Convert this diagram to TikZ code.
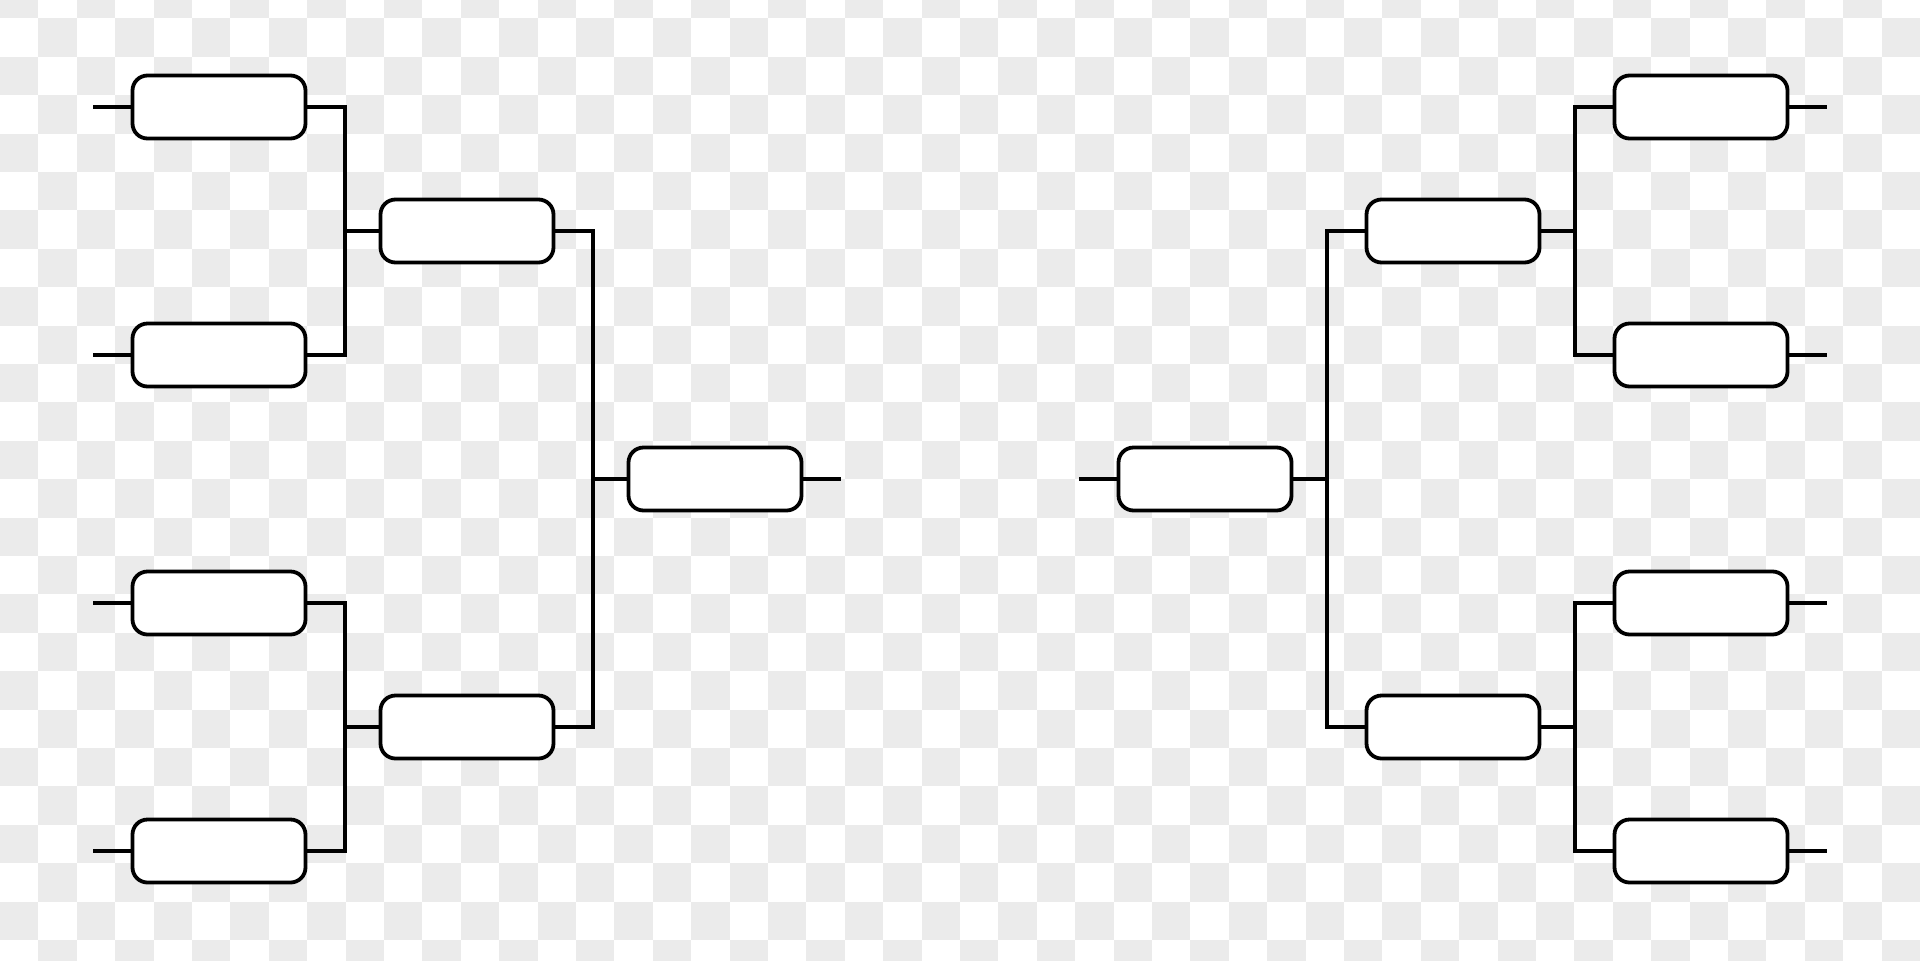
\documentclass[tikz,border=0pt]{standalone}
\usepackage{tikz}
\definecolor{checkgray}{RGB}{235,235,235}
\tikzstyle{slot}=[rectangle,rounded corners=1.5mm,minimum width=1.73cm,minimum height=0.63cm,inner sep=0pt,draw=black,fill=white,line width=0.38mm]
\tikzstyle{link}=[line width=0.38mm]

\begin{document}
\begin{tikzpicture}[node distance=2.48cm]
    \useasboundingbox (0,0) rectangle (19.2,9.6);
    % checker background
    \begin{scope}
        \clip (0,0) rectangle (19.2,9.6);
        \foreach \i in {0,...,49}{
            \pgfmathtruncatemacro{\off}{mod(\i,2)}
            \foreach \k in {0,...,12}
                \fill[checkgray] (\i*0.384,9.801-\off*0.384-\k*0.768) rectangle ++(0.384,-0.384);
        }
    \end{scope}
    % left half
    \node (lfinal)[slot] at (7.15,4.81){};
    \node (lsemi1)[slot,left of=lfinal,yshift=2.48cm]{};
    \node (lsemi2)[slot,left of=lfinal,yshift=-2.48cm]{};
    \node (lq1)[slot,left of=lsemi1,yshift=1.24cm]{};
    \node (lq2)[slot,left of=lsemi1,yshift=-1.24cm]{};
    \node (lq3)[slot,left of=lsemi2,yshift=1.24cm]{};
    \node (lq4)[slot,left of=lsemi2,yshift=-1.24cm]{};
    % right half
    \node (rfinal)[slot] at (12.05,4.81){};
    \node (rsemi1)[slot,right of=rfinal,yshift=2.48cm]{};
    \node (rsemi2)[slot,right of=rfinal,yshift=-2.48cm]{};
    \node (rq1)[slot,right of=rsemi1,yshift=1.24cm]{};
    \node (rq2)[slot,right of=rsemi1,yshift=-1.24cm]{};
    \node (rq3)[slot,right of=rsemi2,yshift=1.24cm]{};
    \node (rq4)[slot,right of=rsemi2,yshift=-1.24cm]{};
    % left brackets
    \draw [link] (lq1.west) -- ++(-0.375,0);
    \draw [link] (lq2.west) -- ++(-0.375,0);
    \draw [link] (lq3.west) -- ++(-0.375,0);
    \draw [link] (lq4.west) -- ++(-0.375,0);
    \draw [link] (lq1.east) -- ++(0.375,0) |- (lsemi1.west);
    \draw [link] (lq2.east) -- ++(0.375,0) |- (lsemi1.west);
    \draw [link] (lq3.east) -- ++(0.375,0) |- (lsemi2.west);
    \draw [link] (lq4.east) -- ++(0.375,0) |- (lsemi2.west);
    \draw [link] (lsemi1.east) -- ++(0.375,0) |- (lfinal.west);
    \draw [link] (lsemi2.east) -- ++(0.375,0) |- (lfinal.west);
    \draw [link] (lfinal.east) -- ++(0.375,0);
    % right brackets
    \draw [link] (rq1.east) -- ++(0.375,0);
    \draw [link] (rq2.east) -- ++(0.375,0);
    \draw [link] (rq3.east) -- ++(0.375,0);
    \draw [link] (rq4.east) -- ++(0.375,0);
    \draw [link] (rq1.west) -- ++(-0.375,0) |- (rsemi1.east);
    \draw [link] (rq2.west) -- ++(-0.375,0) |- (rsemi1.east);
    \draw [link] (rq3.west) -- ++(-0.375,0) |- (rsemi2.east);
    \draw [link] (rq4.west) -- ++(-0.375,0) |- (rsemi2.east);
    \draw [link] (rsemi1.west) -- ++(-0.375,0) |- (rfinal.east);
    \draw [link] (rsemi2.west) -- ++(-0.375,0) |- (rfinal.east);
    \draw [link] (rfinal.west) -- ++(-0.375,0);
\end{tikzpicture}
\end{document}
